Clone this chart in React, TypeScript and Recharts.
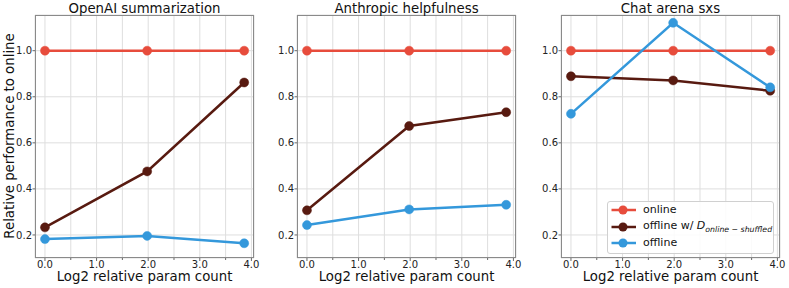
import React from 'react';
import { LineChart, Line, XAxis, YAxis, CartesianGrid, Legend } from 'recharts';

// log2 of relative parameter count
const paramLog2 = [0, 1.98, 3.86];

const titles = ['OpenAI summarization', 'Anthropic helpfulness', 'Chat arena sxs'];

const openaiOnline = [1.0, 1.0, 1.0];
const openaiShuffled = [0.233, 0.476, 0.862];
const openaiOffline = [0.182, 0.196, 0.164];

const anthropicOnline = [1.0, 1.0, 1.0];
const anthropicShuffled = [0.307, 0.673, 0.733];
const anthropicOffline = [0.243, 0.311, 0.331];

const arenaOnline = [1.0, 1.0, 1.0];
const arenaShuffled = [0.889, 0.871, 0.826];
const arenaOffline = [0.726, 1.121, 0.841];

const xTicks = [0, 0.5, 1, 1.5, 2, 2.5, 3, 3.5, 4];
const yTicks = [0.2, 0.4, 0.6, 0.8, 1.0];
const legendOrder = ['online', 'shuffled', 'offline'];

const RED = '#E74C3C';
const BROWN = '#581A10';
const BLUE = '#3498DB';
const FONT = '"DejaVu Sans", sans-serif';

const buildRows = (online: number[], shuffled: number[], offline: number[]) =>
    paramLog2.map((x, i) => ({ x, online: online[i], shuffled: shuffled[i], offline: offline[i] }));

const panels = [
    buildRows(openaiOnline, openaiShuffled, openaiOffline),
    buildRows(anthropicOnline, anthropicShuffled, anthropicOffline),
    buildRows(arenaOnline, arenaShuffled, arenaOffline),
];

const CHART_W = 263;
const CHART_H = 288;
const PLOT_L = 35;
const PLOT_T = 15;
const PLOT_W = 219;
const PLOT_H = 243;
const lefts = [0, 262, 526];

const XTick = (props: any) => {
    const { x, y, payload } = props;
    const v = payload.value;
    const major = Math.abs(v - Math.round(v)) < 1e-6;
    return (
        <g>
            <line x1={x} x2={x} y1={y} y2={y + (major ? 3 : 2)} stroke="#444" strokeWidth={0.8} />
            {major && (
                <text x={x} y={y + 10} textAnchor="middle" fontSize={10} fill="#222" fontFamily={FONT}>
                    {v.toFixed(1)}
                </text>
            )}
        </g>
    );
};

const legendLabel = (name: string) => {
    if (name === 'shuffled') {
        return (
            <span>
                offline w/ <i>D</i>
                <i style={{ fontSize: 7.8, position: 'relative', top: 2.5 }}>online − shuffled</i>
            </span>
        );
    }
    return <span>{name}</span>;
};

const renderLegend = (props: any) => {
    const items = [...(props.payload || [])].sort(
        (a: any, b: any) => legendOrder.indexOf(a.value) - legendOrder.indexOf(b.value));
    return (
        <div style={{
            width: 167, height: 53, boxSizing: 'border-box', border: '1px solid #d0d0d0', borderRadius: 3,
            background: 'rgba(255,255,255,0.85)', padding: '0.5px 0 0 3px', fontFamily: FONT, fontSize: 11, color: '#111',
        }}>
            {items.map((item: any) => (
                <div key={item.value} style={{ display: 'flex', alignItems: 'center', height: 16.5, lineHeight: '16px' }}>
                    <svg width={26} height={16} style={{ flex: 'none' }}>
                        <line x1={0.5} x2={25} y1={8} y2={8} stroke={item.color} strokeWidth={2.5} />
                        <circle cx={12} cy={8} r={4.5} fill={item.color} />
                    </svg>
                    <span style={{ marginLeft: 6, whiteSpace: 'nowrap' }}>{legendLabel(item.value)}</span>
                </div>
            ))}
        </div>
    );
};

const Panel = ({ idx }: { idx: number }) => {
    const left = lefts[idx];
    const dot = (c: string) => ({ r: 4.5, fill: c, stroke: c, strokeWidth: 0.5 });
    return (
        <div style={{ position: 'absolute', left, top: 0, width: CHART_W, height: CHART_H }}>
            <LineChart width={CHART_W} height={CHART_H} data={panels[idx]}
                margin={{ top: PLOT_T, right: CHART_W - PLOT_L - PLOT_W, left: 0, bottom: 0 }}>
                <CartesianGrid stroke="#dedede" strokeWidth={1} />
                <XAxis type="number" dataKey="x" domain={[-0.193, 4.05]} allowDataOverflow ticks={xTicks}
                    interval={0} tick={<XTick />} tickSize={0} tickMargin={0} tickLine={false} axisLine={false} height={30} />
                <YAxis type="number" domain={[0.1, 1.155]} allowDataOverflow ticks={yTicks} width={PLOT_L}
                    tickFormatter={(v: number) => v.toFixed(1)} tickSize={2.5} tickMargin={0.5} axisLine={false}
                    tickLine={{ stroke: '#444', strokeWidth: 0.8 }}
                    tick={{ fontSize: 10, fill: '#222', fontFamily: FONT }} />
                <Line dataKey="online" name="online" stroke={RED} strokeWidth={2.5} dot={dot(RED)} isAnimationActive={false} />
                <Line dataKey="shuffled" name="shuffled" stroke={BROWN} strokeWidth={2.5} dot={dot(BROWN)} isAnimationActive={false} />
                <Line dataKey="offline" name="offline" stroke={BLUE} strokeWidth={2.5} dot={dot(BLUE)} isAnimationActive={false} />
                {idx === 2 && (
                    <Legend layout="vertical" align="center" verticalAlign="middle" content={renderLegend}
                        wrapperStyle={{ left: 81, top: 200.5, width: 167, height: 53 }} />
                )}
            </LineChart>
            <div style={{
                position: 'absolute', left: PLOT_L, top: PLOT_T, width: PLOT_W, height: PLOT_H,
                border: '1px solid #8a8a8a', boxSizing: 'border-box', pointerEvents: 'none',
            }} />
            <div style={{
                position: 'absolute', left: PLOT_L, top: 1, width: PLOT_W, textAlign: 'center',
                fontSize: 13.3, lineHeight: '16px', color: '#111', whiteSpace: 'nowrap',
            }}>{titles[idx]}</div>
            <div style={{
                position: 'absolute', left: PLOT_L, top: 270.8, width: PLOT_W, textAlign: 'center',
                fontSize: 13.3, lineHeight: '12px', color: '#111', whiteSpace: 'nowrap',
            }}>Log2 relative param count</div>
        </div>
    );
};

export default function App() {
    return (
        <div style={{ position: 'absolute', left: 0, top: 0, width: 789, height: 288, background: '#fff', fontFamily: FONT, overflow: 'hidden' }}>
            <Panel idx={0} />
            <Panel idx={1} />
            <Panel idx={2} />
            <div style={{
                position: 'absolute', left: 9.5, top: 136, transform: 'translate(-50%, -50%) rotate(-90deg)',
                fontSize: 13.3, lineHeight: '16px', whiteSpace: 'nowrap', color: '#111',
            }}>Relative performance to online</div>
        </div>
    );
}
